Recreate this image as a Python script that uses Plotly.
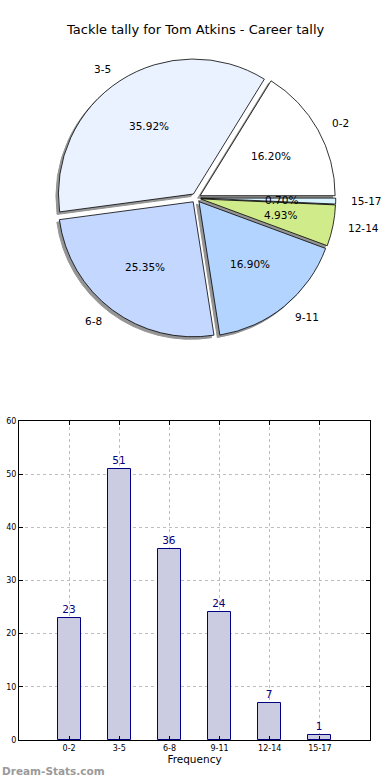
import math
import plotly.graph_objects as go

title = "Tackle tally for Tom Atkins - Career tally"
categories = ["0-2", "3-5", "6-8", "9-11", "12-14", "15-17"]
counts = [23, 51, 36, 24, 7, 1]
pie_colors = ["#ffffff", "#eaf1ff", "#c4d7ff", "#b3d4ff", "#d0eb8a", "#d6f3ff"]
y_ticks = [0, 10, 20, 30, 40, 50, 60]

W, H = 390, 780
FONT = "DejaVu Sans"

# pie geometry (pixels)
cx, cy, r = 196, 198, 135
pull = 0.035
half = r * (1 + pull)


def px_x(x):
    return x / W


def px_y(y):
    return 1 - y / H


total = sum(counts)
# plotly's counterclockwise pies end the first slice at `rotation`;
# shift so that the first slice starts at 3 o'clock like matplotlib
start_rotation = 90 - counts[0] / total * 360

dom_x = [px_x(cx - half), px_x(cx + half)]
dom_y = [px_y(cy + half), px_y(cy - half)]
sh = 2.5
shadow_x = [px_x(cx - half - sh), px_x(cx + half - sh)]
shadow_y = [px_y(cy + half + sh), px_y(cy - half + sh)]

fig = go.Figure()

# shadow pie
fig.add_trace(go.Pie(
    labels=categories, values=counts, sort=False, direction="counterclockwise",
    rotation=start_rotation, pull=[pull] * len(counts), textinfo="none", hoverinfo="skip",
    marker=dict(colors=["#8a8a8a"] * len(counts), line=dict(color="#8a8a8a", width=1)),
    domain=dict(x=shadow_x, y=shadow_y), showlegend=False, opacity=0.9,
))

fig.add_trace(go.Pie(
    labels=categories, values=counts, sort=False, direction="counterclockwise",
    rotation=start_rotation, pull=[pull] * len(counts), textinfo="none",
    marker=dict(colors=pie_colors, line=dict(color="#000000", width=0.8)),
    domain=dict(x=dom_x, y=dom_y), showlegend=False,
))

annotations = []
cum = 0
for lab, v in zip(categories, counts):
    a0 = cum / total * 360
    cum += v
    a1 = cum / total * 360
    mid = math.radians((a0 + a1) / 2)
    dx, dy = math.cos(mid), math.sin(mid)
    # outer label
    lx = cx + (1.1 + pull) * r * dx
    ly = cy - (1.1 + pull) * r * dy
    annotations.append(dict(
        x=px_x(lx), y=px_y(ly), xref="paper", yref="paper", text=lab,
        showarrow=False, xanchor="left" if dx > 0 else "right", yanchor="middle",
        font=dict(family=FONT, size=10.5, color="#000000"),
    ))
    # percentage
    pxx = cx + (0.6 + pull) * r * dx
    pyy = cy - (0.6 + pull) * r * dy
    annotations.append(dict(
        x=px_x(pxx), y=px_y(pyy), xref="paper", yref="paper",
        text="%.2f%%" % (v / total * 100),
        showarrow=False, xanchor="center", yanchor="middle",
        font=dict(family=FONT, size=10.5, color="#000000"),
    ))

# bar chart
fig.add_trace(go.Bar(
    x=list(range(len(categories))), y=counts, width=0.46,
    marker=dict(color="#cbcbe2", line=dict(color="#000080", width=1)),
    text=[str(c) for c in counts], textposition="outside",
    textfont=dict(family=FONT, size=10.5, color="#000080"),
    cliponaxis=False, xaxis="x", yaxis="y", showlegend=False,
))

annotations.append(dict(
    x=px_x(W / 2), y=px_y(30), xref="paper", yref="paper", text=title,
    showarrow=False, xanchor="center", yanchor="middle",
    font=dict(family=FONT, size=13, color="#000000"),
))
annotations.append(dict(
    x=0, y=px_y(771), xref="paper", yref="paper", text="<b>Dream-Stats.com</b>",
    showarrow=False, xanchor="left", yanchor="middle",
    font=dict(family=FONT, size=10.5, color="#9a9a9a"),
))

axis_common = dict(
    showline=True, linecolor="#000000", linewidth=1, mirror="ticks",
    ticks="inside", ticklen=4, tickcolor="#000000",
    showgrid=True, gridcolor="#bdbdbd", griddash="dot", gridwidth=1,
    zeroline=False, layer="above traces", automargin=False,
    tickfont=dict(family=FONT, size=8, color="#000000"),
)

fig.update_layout(
    width=W, height=H, margin=dict(l=0, r=0, t=0, b=0),
    paper_bgcolor="#ffffff", plot_bgcolor="#ffffff",
    annotations=annotations, bargap=0,
    xaxis=dict(
        domain=[px_x(19), px_x(370)], range=[-1, 6],
        tickvals=list(range(len(categories))), ticktext=categories,
        title=dict(text="Frequency", font=dict(family=FONT, size=10.5, color="#000000"), standoff=4),
        anchor="y", **axis_common,
    ),
    yaxis=dict(
        domain=[px_y(740), px_y(421)], range=[0, 60], tickvals=y_ticks,
        anchor="x", **axis_common,
    ),
)

fig.write_html(
    "out.html",
    config={"displayModeBar": False},
    post_script="document.body.style.margin='0';document.body.style.padding='0';",
)
